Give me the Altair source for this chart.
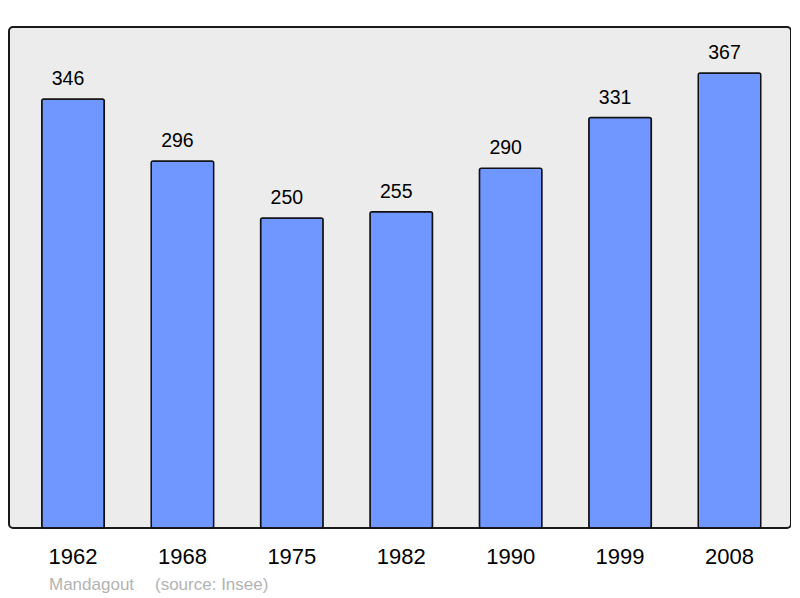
import altair as alt
import pandas as pd

years = ["1962", "1968", "1975", "1982", "1990", "1999", "2008"]
population = [346, 296, 250, 255, 290, 331, 367]
commune = "Mandagout"
source = "(source: Insee)"

df = pd.DataFrame({"year": years, "pop": population})

FONT = "Liberation Sans"

x = alt.X("year:N", sort=years,
          scale=alt.Scale(paddingInner=0.4287, paddingOuter=0.288, align=0.52),
          axis=alt.Axis(title=None, labelAngle=0, labelFontSize=22, labelFont=FONT,
                        labelColor="#000000", domain=False, ticks=False,
                        labelPadding=18, labelBaseline="top"))
y = alt.Y("pop:Q", scale=alt.Scale(domain=[0, 404], nice=False, zero=True), axis=None)

bars = alt.Chart(df).mark_bar(color="#7097ff", stroke="#111111", strokeWidth=1.5,
                              cornerRadius=2).encode(x=x, y=y)

labels = alt.Chart(df).mark_text(fontSize=19.5, font=FONT, color="#000000",
                                 baseline="bottom", dy=-10, dx=-5).encode(
    x=x, y=y, text=alt.Text("pop:Q"))

foot1 = alt.Chart(pd.DataFrame({"t": [commune]})).mark_text(
    align="left", baseline="middle", fontSize=17, font=FONT, color="#b3b3b3").encode(
    x=alt.value(40), y=alt.value(558), text="t:N")
foot2 = alt.Chart(pd.DataFrame({"t": [source]})).mark_text(
    align="left", baseline="middle", fontSize=17, font=FONT, color="#b3b3b3").encode(
    x=alt.value(146), y=alt.value(558), text="t:N")

chart = alt.layer(bars, labels, foot1, foot2).properties(
    width=782, height=501,
    background="#ffffff",
    autosize=alt.AutoSizeParams(type="none"),
    padding={"left": 1, "top": 19, "right": 0, "bottom": 70},
).configure_view(
    fill="#ececec", stroke="#1a1a1a", strokeWidth=2, cornerRadius=4
)

chart.save("out.html", embed_options={"renderer": "svg", "actions": False})
